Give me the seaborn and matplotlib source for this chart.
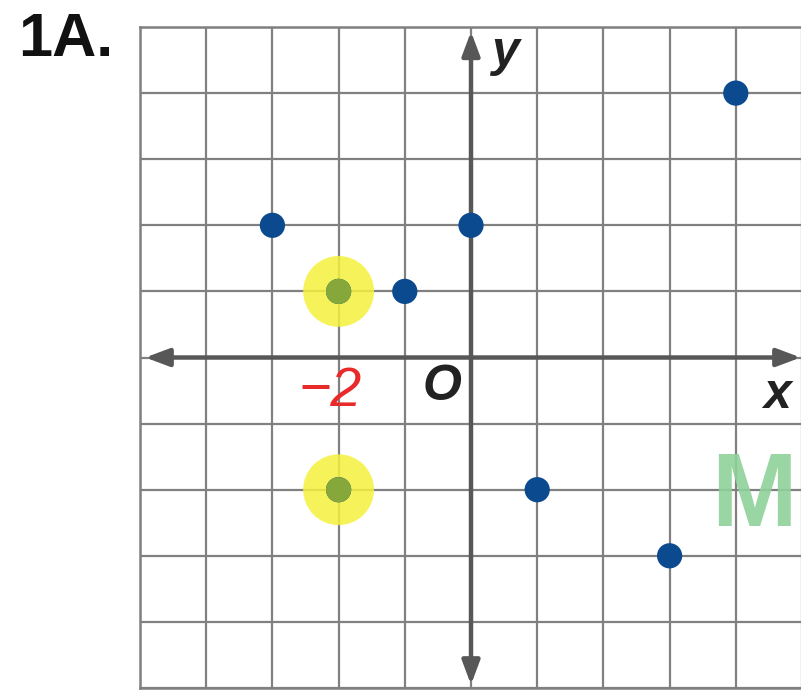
import matplotlib
matplotlib.use("Agg")
import matplotlib.pyplot as plt
import seaborn as sns
import pandas as pd

# data
pts_x = [-3, -2, -1, 0, 4, 1, 3, -2]
pts_y = [2, 1, 1, 2, 4, -2, -3, -2]
hl_x = [-2, -2]
hl_y = [1, -2]
grid_ticks = list(range(-5, 6))

sns.set_theme(style="white")
plt.rcParams['font.family'] = ['Liberation Sans', 'DejaVu Sans']

fig = plt.figure(figsize=(8.01, 6.91), dpi=100)
ax = fig.add_axes([140/801, 3/691, 662/801, 661/691])
ax.set_xlim(-5, 5)
ax.set_ylim(-5, 5)

# grid
ax.set_xticks(grid_ticks)
ax.set_yticks(grid_ticks)
ax.grid(True, color="#808080", linewidth=1.6)
ax.tick_params(length=0, labelbottom=False, labelleft=False)
for s in ax.spines.values():
    s.set_color("#808080")
    s.set_linewidth(1.8)
ax.spines['right'].set_visible(False)

# axes arrows
arrow_kw = dict(arrowstyle="<|-|>,head_length=1.2,head_width=0.45", color="#575757", lw=3.2,
                shrinkA=0, shrinkB=0)
ax.annotate("", xy=(4.98, 0), xytext=(-4.92, 0), arrowprops=arrow_kw, zorder=3)
ax.annotate("", xy=(0, 4.93), xytext=(0, -4.95), arrowprops=arrow_kw, zorder=3)

# highlights
hl = pd.DataFrame({"x": hl_x, "y": hl_y})
sns.scatterplot(data=hl, x="x", y="y", ax=ax, s=2600, color="#f4f23c", alpha=0.85,
                edgecolor="none", zorder=4, legend=False)

# points
df = pd.DataFrame({"x": pts_x, "y": pts_y})
sns.scatterplot(data=df, x="x", y="y", ax=ax, s=330, color="#0b4a8e", edgecolor="none",
                zorder=5, legend=False)
sns.scatterplot(data=hl, x="x", y="y", ax=ax, s=330, color="#86a83a", edgecolor="none",
                zorder=6, legend=False)
ax.set_xlabel("")
ax.set_ylabel("")

# labels
ax.text(0.52, 4.6, "y", fontsize=36, fontweight="bold", style="italic", color="#222222",
        ha="center", va="center", zorder=7)
ax.text(4.62, -0.56, "x", fontsize=36, fontweight="bold", style="italic", color="#222222",
        ha="center", va="center", zorder=7)
ax.text(-0.44, -0.45, "O", fontsize=36, fontweight="bold", style="italic", color="#222222",
        ha="center", va="center", zorder=7)
ax.text(-2.13, -0.52, "−2", fontsize=40, color="#e82a2a", style="italic",
        ha="center", va="center", zorder=7)
ax.text(4.27, -2.15, "M", fontsize=74, fontweight="bold", color="#8fd19a", alpha=0.9,
        ha="center", va="center", zorder=7)

fig.text(18/801, 1 - 41/691, "1A.", fontsize=44, fontweight="bold", color="#111111",
         ha="left", va="center")

fig.savefig("out.png", dpi=100)
